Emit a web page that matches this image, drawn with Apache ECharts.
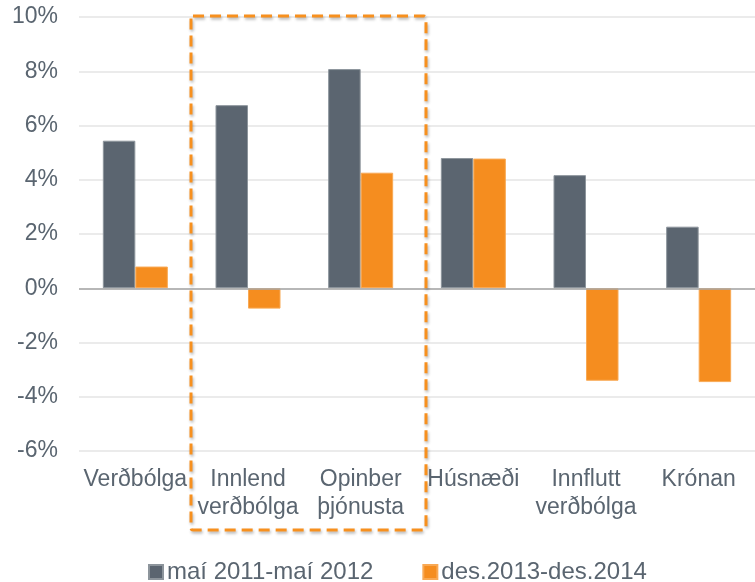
<!DOCTYPE html>
<html>
<head>
<meta charset="utf-8">
<script src="https://cdn.jsdelivr.net/npm/echarts@6/dist/echarts.min.js"></script>
<style>
html,body{margin:0;padding:0;background:#fff;}
#main{width:755px;height:582px;}
</style>
</head>
<body>
<div id="main"></div>
<script>
var categories = ['Verðbólga', 'Innlend\nverðbólga', 'Opinber\nþjónusta', 'Húsnæði', 'Innflutt\nverðbólga', 'Krónan'];
var seriesNames = ['maí 2011-maí 2012', 'des.2013-des.2014'];
var valuesA = [5.44, 6.75, 8.08, 4.80, 4.17, 2.27];
var valuesB = [0.80, -0.75, 4.26, 4.78, -3.41, -3.46];
var yTicks = { min: -6, max: 10, interval: 2 };

var textColor = '#5a6570';
var font = '"Liberation Sans", Arial, sans-serif';
var chart = echarts.init(document.getElementById('main'), null, { renderer: 'canvas' });
chart.setOption({
  animation: false,
  backgroundColor: '#ffffff',
  textStyle: { fontFamily: font },
  grid: { left: 79, top: 17, width: 684, height: 434, containLabel: false },
  legend: {
    left: 148, top: 560, padding: 0,
    itemWidth: 14, itemHeight: 14, itemGap: 49,
    icon: 'rect',
    textStyle: { fontSize: 24, color: textColor, fontFamily: font, padding: [0, 0, 0, -1] },
    data: seriesNames
  },
  xAxis: {
    type: 'category',
    data: categories,
    axisLine: { show: false, onZero: false },
    axisTick: { show: false },
    axisLabel: { fontSize: 23, color: textColor, fontFamily: font, margin: 15, lineHeight: 28, interval: 0 },
    splitLine: { show: false }
  },
  yAxis: {
    type: 'value',
    min: yTicks.min, max: yTicks.max, interval: yTicks.interval,
    axisLine: { show: false },
    axisTick: { show: false },
    axisLabel: { fontSize: 23, color: textColor, fontFamily: font, margin: 21, formatter: '{value}%' },
    splitLine: { show: true, lineStyle: { color: '#e4e4e4', width: 1.5 } }
  },
  series: [
    {
      name: seriesNames[0], type: 'bar', data: valuesA,
      barWidth: 32.5, barGap: '0%',
      itemStyle: { color: '#5b6570', borderColor: '#8d959c', borderWidth: 1 },
      markLine: {
        silent: true, symbol: 'none', label: { show: false },
        lineStyle: { color: '#a6a6a6', width: 1.5, type: 'solid' },
        data: [{ yAxis: 0 }]
      }
    },
    {
      name: seriesNames[1], type: 'bar', data: valuesB,
      barWidth: 32.5, barGap: '0%',
      itemStyle: { color: '#f58d1f', borderColor: '#f8a955', borderWidth: 1 }
    }
  ],
  graphic: [{
    type: 'rect',
    shape: { x: 191, y: 16, width: 235, height: 514, r: 2 },
    style: {
      fill: 'none', stroke: '#f7901e', lineWidth: 3, lineDash: [11, 6],
      shadowBlur: 3, shadowColor: 'rgba(0,0,0,0.3)', shadowOffsetX: 1, shadowOffsetY: 2
    },
    z: 100
  }]
});
</script>
</body>
</html>
